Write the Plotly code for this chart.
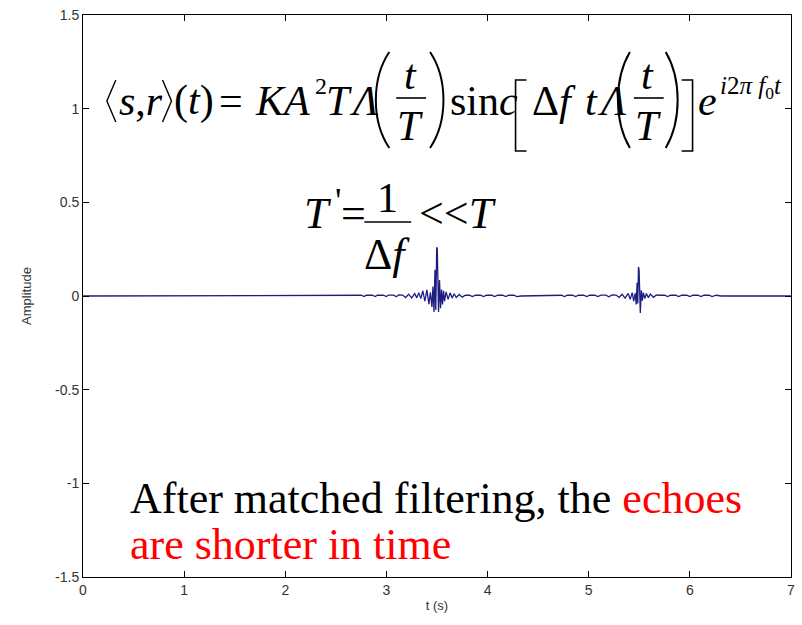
import plotly.graph_objects as go

# ---- data: matched-filter output (real part), two compressed echoes ----
t_vals = [
    0.00, 2.66,
    2.70, 2.75, 2.78, 2.80, 2.86, 2.89, 2.91, 2.97, 3.00, 3.02, 3.07, 3.10, 3.12, 3.16,
    3.19, 3.22, 3.25, 3.28, 3.30, 3.32, 3.34, 3.36, 3.38, 3.40, 3.42, 3.435, 3.45, 3.46,
    3.47, 3.48, 3.488, 3.497, 3.503, 3.515, 3.525, 3.535, 3.545, 3.555, 3.565, 3.575,
    3.59, 3.61, 3.63, 3.65, 3.67, 3.69, 3.72, 3.75,
    3.78, 3.82, 3.85, 3.88, 3.93, 3.96, 3.99, 4.04, 4.07, 4.10, 4.15, 4.18, 4.21, 4.26,
    4.29, 4.33,
    4.64, 4.68, 4.73, 4.76, 4.79, 4.84, 4.87, 4.90, 4.95, 4.98, 5.01, 5.06, 5.09, 5.12,
    5.17, 5.20, 5.23, 5.27, 5.30, 5.33, 5.36, 5.39, 5.41, 5.43, 5.445, 5.46, 5.47, 5.478,
    5.485, 5.492, 5.498, 5.51, 5.52, 5.53, 5.54, 5.555, 5.57, 5.59, 5.61, 5.64, 5.67,
    5.70, 5.75, 5.78, 5.81, 5.86, 5.89, 5.92, 5.97, 6.00, 6.03, 6.08, 6.11, 6.14, 6.19,
    6.22, 6.26, 6.31,
    7.00,
]
amp_vals = [
    0.0, 0.0,
    0.004, 0.004, -0.003, 0.004, 0.004, -0.003, 0.004, 0.004, -0.003, 0.005, 0.005, -0.004, 0.006, 0.005,
    -0.008, 0.010, -0.010, 0.013, -0.010, 0.018, -0.014, 0.028, -0.028, 0.033, -0.043, 0.020, -0.058, 0.050,
    -0.085, 0.140, -0.075, 0.260, 0.250, -0.085, 0.085, -0.065, 0.035, -0.045, 0.028, -0.028,
    0.022, -0.018, 0.017, -0.011, 0.012, -0.008, 0.008, -0.006,
    0.004, 0.004, -0.003, 0.004, 0.004, -0.003, 0.004, 0.004, -0.003, 0.004, 0.004, -0.003, 0.004, 0.004,
    -0.003, 0.0,
    0.0, 0.004, 0.004, -0.003, 0.004, 0.004, -0.003, 0.004, 0.004, -0.003, 0.004, 0.004, -0.003, 0.005,
    0.005, -0.004, 0.006, 0.005, -0.007, 0.009, -0.011, 0.014, -0.018, 0.018, -0.028, 0.015, -0.045, 0.070,
    -0.040, 0.155, 0.140, -0.090, 0.030, -0.025, 0.018, -0.014, 0.013, -0.009, 0.010, -0.007, 0.006,
    0.004, 0.004, -0.003, 0.004, 0.004, -0.003, 0.004, 0.004, -0.003, 0.004, 0.004, -0.003, 0.004, 0.004,
    -0.003, 0.004, 0.0,
    0.0,
]

x_ticks = [0, 1, 2, 3, 4, 5, 6, 7]
y_ticks = [-1.5, -1, -0.5, 0, 0.5, 1, 1.5]
y_tick_text = ["-1.5", "-1", "-0.5", "0", "0.5", "1", "1.5"]

W, H = 802, 625
L, R, T, B = 83, 7, 15, 48
PW, PH = W - L - R, H - T - B

SERIF = "Liberation Serif"


def px(x):
    return (x - L) / PW


def py(y):
    return (H - B - y) / PH


fig = go.Figure()
fig.add_trace(go.Scatter(
    x=t_vals, y=amp_vals, mode="lines",
    line=dict(color="#1e1e80", width=1.3),
    showlegend=False, hoverinfo="skip",
))

annotations = []
shapes = []


def text(s, x, y, size, color="black", xanchor="left", yanchor="middle"):
    annotations.append(dict(
        text=s, x=px(x), y=py(y), xref="paper", yref="paper",
        xanchor=xanchor, yanchor=yanchor, showarrow=False,
        font=dict(family=SERIF, size=size, color=color), borderpad=0,
    ))


def hline(x0, x1, y, w=1.6):
    shapes.append(dict(type="line", xref="paper", yref="paper",
                       x0=px(x0), x1=px(x1), y0=py(y), y1=py(y),
                       line=dict(color="black", width=w)))


def path(points_str, w=1.6):
    shapes.append(dict(type="path", xref="paper", yref="paper", path=points_str,
                       line=dict(color="black", width=w)))


def P(x, y):
    return f"{px(x):.5f},{py(y):.5f}"


def paren(xr, xl, y0, y1, w=2.0):
    h = y1 - y0
    path(f"M {P(xr, y0)} C {P(xl, y0 + 0.28*h)} {P(xl, y1 - 0.28*h)} {P(xr, y1)}", w)


# ---- first formula ----
FS = 42
YC = 101
path(f"M {P(116, 80)} L {P(107, 101)} L {P(116, 122)}", 1.4)   # left angle bracket
text("<i>s</i>,<i>r</i>", 118, YC, FS)
path(f"M {P(163, 80)} L {P(172, 101)} L {P(163, 122)}", 1.4)   # right angle bracket
text("(<i>t</i>)", 174, YC, FS)
text("=", 219, YC, FS)
text("<i>KA</i>", 255, YC, FS)
text("2", 315, 86, 24)
text("<i>T</i>", 326, YC, FS)
text("<i>Λ</i>", 349, YC, FS)
paren(391, 373, 52, 148)
text("<i>t</i>", 412, 75, FS, xanchor="center")
hline(398, 428, 98)
text("<i>T</i>", 412, 126, FS, xanchor="center")
paren(432, 450, 52, 148)
text("sin<i>c</i>", 451, YC, FS)
path(f"M {P(529, 80)} L {P(518, 80)} L {P(518, 151)} L {P(529, 151)}", 1.6)
text("Δ<i>f</i>", 534, YC, FS)
text("<i>t</i>", 587, YC, FS)
text("<i>Λ</i>", 599, YC, FS)
paren(633, 617, 52, 148)
text("<i>t</i>", 651, 75, FS, xanchor="center")
hline(637, 667, 98)
text("<i>T</i>", 651, 126, FS, xanchor="center")
paren(669, 685, 52, 148)
path(f"M {P(685, 80)} L {P(696, 80)} L {P(696, 151)} L {P(685, 151)}", 1.6)
text("<i>e</i>", 700, YC, FS)
text("<i>i</i>2<i>π f</i><sub>0</sub><i>t</i>", 723, 87, 25)

# ---- second formula ----
text("<i>T</i>", 304, 213, 44)
text("'", 335, 201, 36)
text("=", 341, 213, 44)
text("1", 389, 198, 42, xanchor="center")
hline(366, 413, 222)
text("Δ<i>f</i>", 389, 254, 44, xanchor="center")
text("&#60;&#60;<i>T</i>", 420, 213, 44)

# ---- caption ----
text("After matched filtering, the <span style='color:red'>echoes</span>", 129, 498, 44)
text("are shorter in time", 129, 544, 44, color="red")

axis_common = dict(
    showline=True, linecolor="black", linewidth=1, mirror="allticks",
    ticks="inside", ticklen=6, tickcolor="black", tickwidth=1,
    showgrid=False, zeroline=False,
    tickfont=dict(family="Liberation Sans", size=14, color="#333333"),
)

fig.update_layout(
    width=W, height=H,
    margin=dict(l=L, r=R, t=T, b=B),
    paper_bgcolor="white", plot_bgcolor="white",
    xaxis=dict(range=[0, 7], tickvals=x_ticks,
               title=dict(text="t (s)", font=dict(family="Liberation Sans", size=13, color="#333333"),
                          standoff=4),
               **axis_common),
    yaxis=dict(range=[-1.5, 1.5], tickvals=y_ticks, ticktext=y_tick_text,
               title=dict(text="Amplitude", font=dict(family="Liberation Sans", size=13, color="#333333"),
                          standoff=20),
               **axis_common),
    annotations=annotations,
    shapes=shapes,
)

fig.write_html("out.html")
